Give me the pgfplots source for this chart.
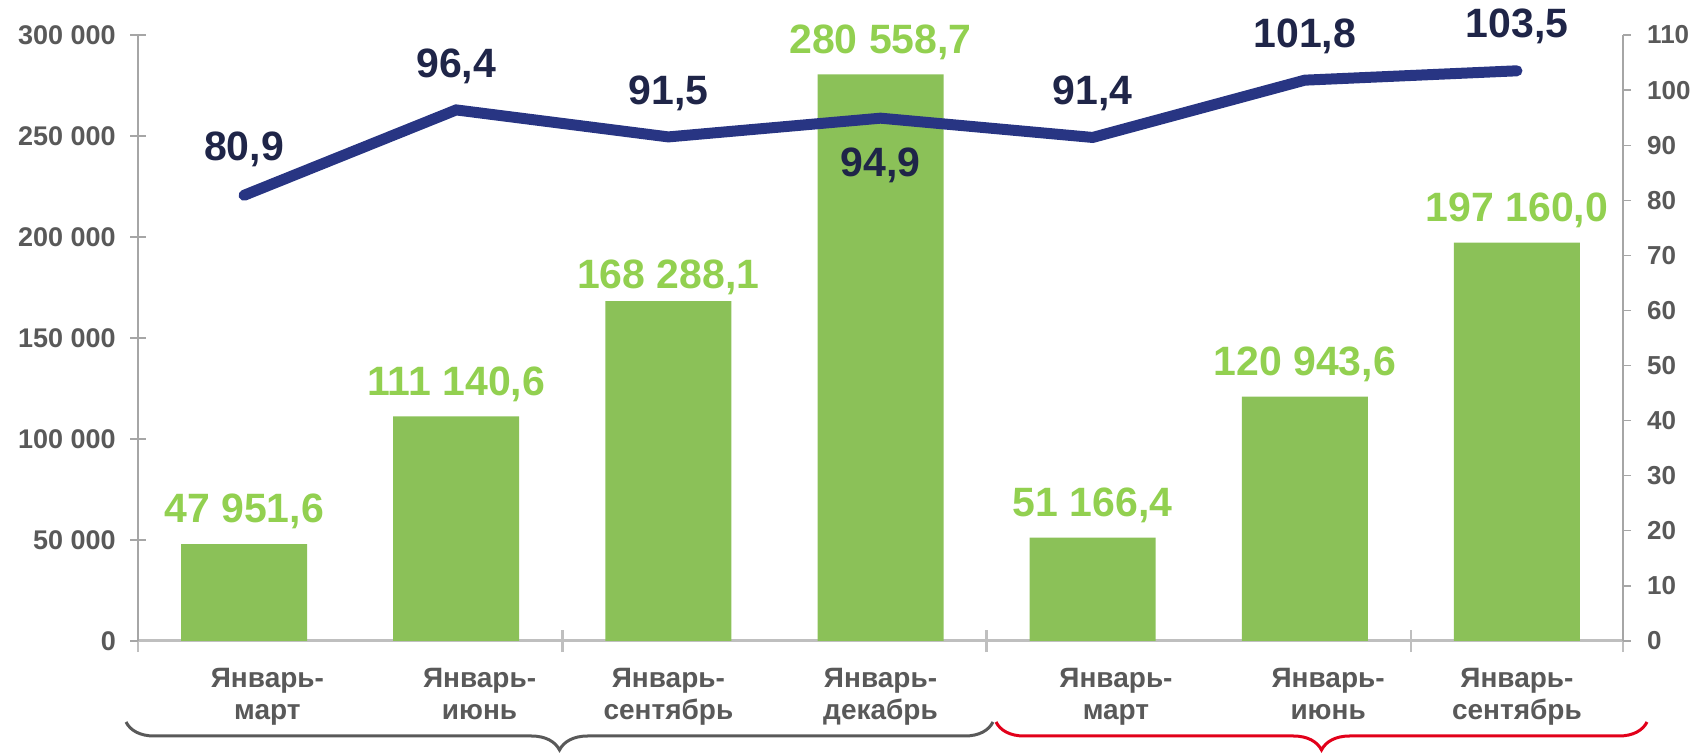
\documentclass[border=0pt]{standalone}
\usepackage{pgfplots}
\pgfplotsset{compat=1.18}
\usepackage{fontspec}
\setmainfont{Liberation Sans}
\usetikzlibrary{decorations.pathreplacing}
\definecolor{barG}{HTML}{8BC158}
\definecolor{labG}{HTML}{92D050}
\definecolor{navy}{HTML}{283583}
\definecolor{navyT}{HTML}{1F2548}
\definecolor{txtG}{HTML}{595959}
\definecolor{axG}{HTML}{A6A6A6}
\definecolor{xaxG}{HTML}{BFBFBF}
\definecolor{braceG}{HTML}{595959}
\definecolor{braceR}{HTML}{E2001A}

\pgfplotstableread{
x y dy
0 47951.6 21
1 111140.6 21
2 168288.1 12
3 280558.7 21
4 51166.4 21
5 120943.6 21
6 197160.0 21
}\bardata

\pgfplotstableread{
x y dy
0 80.9 29
1 96.4 27
2 91.5 27
3 94.9 -64
4 91.4 27
5 101.8 27
6 103.5 28
}\linedata

\begin{document}
\begin{tikzpicture}
\useasboundingbox (0,0) rectangle (1694pt,752pt);
\begin{axis}[
  at={(138pt,111pt)}, anchor=south west,
  scale only axis, width=1485pt, height=606pt,
  xmin=-0.5, xmax=6.5, ymin=0, ymax=300000,
  scaled y ticks=false,
  axis x line*=bottom, axis y line*=left,
  x axis line style={draw=xaxG, line width=3pt, -},
  y axis line style={draw=axG, line width=1.3pt, -},
  xtick={0.11,1.11,2,3,4.11,5.11,6},
  xticklabels={{Январь-\\март},{Январь-\\июнь},{Январь-\\сентябрь},{Январь-\\декабрь},{Январь-\\март},{Январь-\\июнь},{Январь-\\сентябрь}},
  major x tick style={draw=none},
  minor xtick={-0.5,1.5,3.5,5.5,6.5},
  minor x tick style={draw=xaxG, line width=2.5pt},
  minor tick length=22pt,
  ytick={0,50000,...,300000},
  yticklabels={0,50 000,100 000,150 000,200 000,250 000,300 000},
  major tick length=16pt,
  tick align=center,
  tick style={draw=axG, line width=1.3pt},
  yticklabel style={font=\fontsize{27}{27}\selectfont\bfseries, color=txtG, inner sep=0pt, anchor=east, xshift=-14pt},
  xticklabel style={font=\fontsize{28}{32}\selectfont\bfseries, color=txtG, inner sep=0pt, anchor=north, align=center, yshift=-19.5pt},
  clip=false,
  /pgf/number format/fixed, /pgf/number format/fixed zerofill,
  /pgf/number format/precision=1, /pgf/number format/use comma,
  /pgf/number format/1000 sep={\ }, /pgf/number format/assume math mode=true,
]
\addplot[ybar, bar width=126pt, fill=barG, draw=none,
  nodes near coords, point meta=y,
  visualization depends on={\thisrow{dy}\as\dy},
  every node near coord/.append style={font=\fontsize{41}{41}\selectfont\bfseries, color=labG, inner sep=0pt, text depth=0pt, yshift=\dy pt},
] table[x=x, y=y] {\bardata};
\end{axis}
\begin{axis}[
  at={(138pt,111pt)}, anchor=south west,
  scale only axis, width=1485pt, height=606pt,
  xmin=-0.5, xmax=6.5, ymin=0, ymax=110,
  axis x line=none, axis y line*=right,
  y axis line style={draw=axG, line width=1.3pt, -},
  ytick={0,10,20,30,40,50,60,70,80,90,100,110},
  yticklabels={0,10,20,30,40,50,60,70,80,90,100,110},
  tick align=outside, major tick length=8pt,
  tick style={draw=axG, line width=1.3pt},
  yticklabel style={font=\fontsize{26}{26}\selectfont\bfseries, color=txtG, inner sep=0pt, anchor=west, xshift=16pt},
  clip=false,
  /pgf/number format/fixed, /pgf/number format/fixed zerofill,
  /pgf/number format/precision=1, /pgf/number format/use comma,
  /pgf/number format/1000 sep={\ }, /pgf/number format/assume math mode=true,
]
\addplot[draw=navy, line width=11pt, line cap=round, line join=miter, mark=none,
  nodes near coords, point meta=y,
  visualization depends on={\thisrow{dy}\as\dy},
  every node near coord/.append style={font=\fontsize{41}{41}\selectfont\bfseries, color=navyT, inner sep=0pt, text depth=0pt, yshift=\dy pt},
] table[x=x, y=y] {\linedata};
\end{axis}
\draw[decorate, decoration={brace, mirror, amplitude=28pt}, line width=3pt, draw=braceG] (126pt,30pt) -- (993pt,30pt);
\draw[decorate, decoration={brace, mirror, amplitude=28pt}, line width=3pt, draw=braceR] (996pt,30pt) -- (1647pt,30pt);
\end{tikzpicture}
\end{document}
